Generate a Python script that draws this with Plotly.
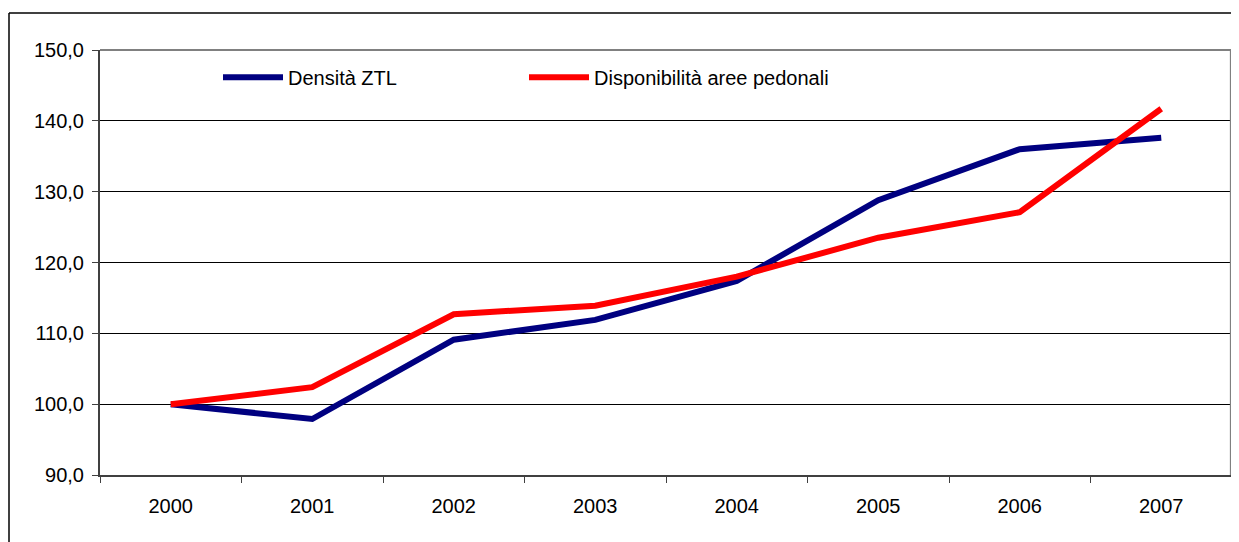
import plotly.graph_objects as go

years = ["2000", "2001", "2002", "2003", "2004", "2005", "2006", "2007"]
densita_ztl = [100.0, 97.9, 109.1, 111.9, 117.4, 128.8, 136.0, 137.6]
aree_pedonali = [100.0, 102.4, 112.7, 113.9, 118.0, 123.5, 127.1, 141.7]
y_ticks = [90, 100, 110, 120, 130, 140, 150]

# page body has an 8px margin; figure is sized to fill the rest of the window
OFF = 8
W, H = 1239 - OFF, 542 - OFF
L, R, T, B = 100 - OFF, 7, 50 - OFF, 67

fig = go.Figure()
fig.add_trace(go.Scatter(x=years, y=densita_ztl, mode="lines", name="Densità ZTL",
                         line=dict(color="#000080", width=6)))
fig.add_trace(go.Scatter(x=years, y=aree_pedonali, mode="lines", name="Disponibilità aree pedonali",
                         line=dict(color="#FF0000", width=6)))

pw = W - L - R
ph = H - T - B
top_px = 13 - OFF
left_px = 9 - OFF
fig.add_shape(type="line", xref="paper", yref="paper",
              x0=(left_px - L) / pw, x1=(W + 5 - L) / pw,
              y0=(H - B - top_px) / ph, y1=(H - B - top_px) / ph,
              line=dict(color="black", width=1.5))
fig.add_shape(type="line", xref="paper", yref="paper",
              x0=(left_px - L) / pw, x1=(left_px - L) / pw,
              y0=(H - B - top_px) / ph, y1=-(B + 5) / ph,
              line=dict(color="black", width=1.5))
# plot border top/right
fig.add_shape(type="line", xref="paper", yref="paper", x0=0, x1=1, y0=1, y1=1,
              line=dict(color="#808080", width=2), layer="above")
fig.add_shape(type="line", xref="paper", yref="paper", x0=0.999, x1=0.999, y0=0, y1=1,
              line=dict(color="#808080", width=2), layer="above")

fig.update_layout(
    width=W, height=H,
    margin=dict(l=L, r=R, t=T, b=B),
    paper_bgcolor="white", plot_bgcolor="white",
    separators=",.",
    font=dict(family="Liberation Sans, Arial, sans-serif", size=20, color="black"),
    showlegend=True,
    legend=dict(orientation="h", x=(218 - OFF - L) / pw, y=0.982, xanchor="left", yanchor="top",
                bgcolor="rgba(0,0,0,0)", itemwidth=60, entrywidth=231, entrywidthmode="pixels",
                font=dict(size=20)),
    xaxis=dict(type="category", range=[-0.5, 7.5], tickson="boundaries", ticks="outside",
               ticklen=6, tickcolor="#404040", showline=True, linecolor="#404040", linewidth=2,
               showgrid=False, zeroline=False, tickfont=dict(size=20), fixedrange=True,
               ticklabelstandoff=12),
    yaxis=dict(range=[90, 150], tickvals=y_ticks, tickformat=".1f", ticks="outside",
               ticklen=6, tickcolor="#404040", showline=True, linecolor="#404040", linewidth=2,
               showgrid=True, gridcolor="black", gridwidth=1, zeroline=False,
               tickfont=dict(size=20), fixedrange=True, ticklabelstandoff=4),
)

fig.write_html("out.html")
